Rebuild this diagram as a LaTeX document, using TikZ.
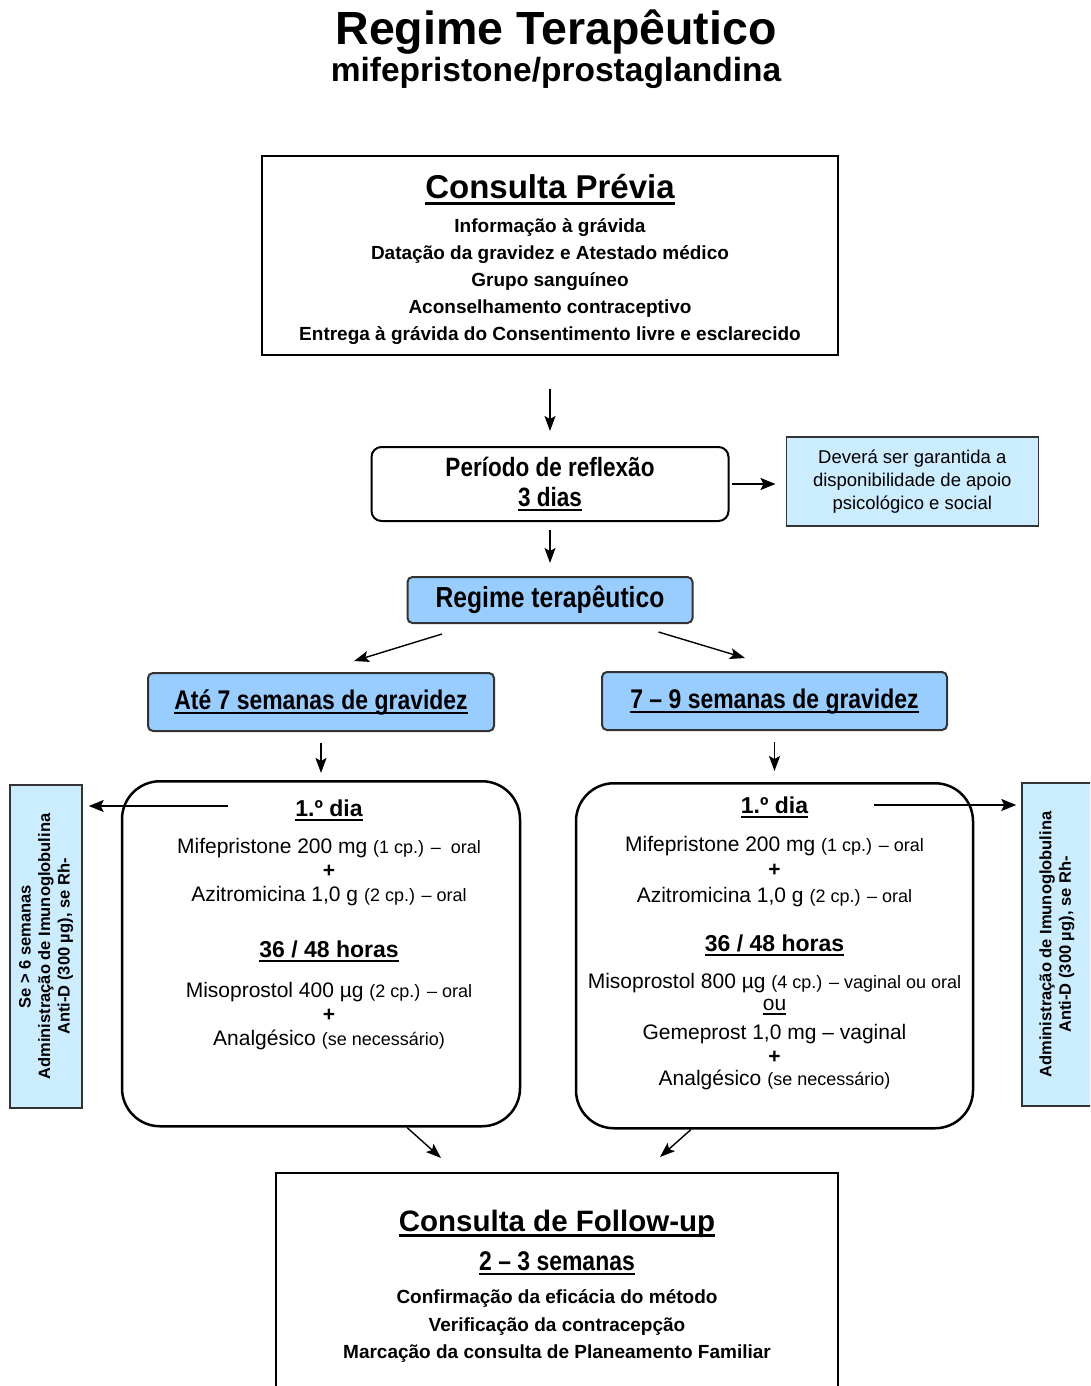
\documentclass[tikz,border=0pt]{standalone}
\usepackage{fontspec}
\setmainfont{Liberation Sans}
\newfontfamily\narrowfont{Liberation Sans}[FakeStretch=0.85]
\usetikzlibrary{positioning, arrows.meta}
\definecolor{paleblue}{RGB}{204,236,255}
\definecolor{phaseblue}{RGB}{153,204,255}
\newcommand{\undl}[1]{\leavevmode\setbox0\hbox{#1}\vtop{\copy0\kern-\dp0\kern0.1em\hrule height 0.075em}}
\newcommand{\smalldose}{\fontsize{18}{24}\selectfont}
\newcommand{\dosehead}[1]{{\bfseries\fontsize{23}{24}\selectfont\undl{#1}}}
\tikzstyle{plainbox} = [rectangle, draw=black, line width=2pt, align=center, inner sep=0pt]
\tikzstyle{roundbox} = [rectangle, rounded corners=10pt, draw=black, line width=2pt, align=center]
\tikzstyle{phase} = [rectangle, rounded corners=5pt, draw=black!80, line width=2pt, fill=phaseblue, align=center]
\tikzstyle{note} = [rectangle, draw=black!80, line width=1.5pt, fill=paleblue, align=center, inner sep=0pt]
\tikzstyle{dosebox} = [rectangle, rounded corners=38pt, draw=black, line width=2.5pt]
\tikzstyle{dosetext} = [align=center, inner sep=0pt, font=\fontsize{21}{24}\selectfont]
\tikzstyle{arrow} = [line width=1.4pt, ->, >={Stealth[length=15pt,width=11pt,inset=3pt]}]
\tikzstyle{sidearrow} = [line width=1.9pt, ->, >={Stealth[length=15pt,width=12pt,inset=3pt]}]

\begin{document}
\begin{tikzpicture}[x=1pt, y=-1pt]
\useasboundingbox (0,0) rectangle (1090,1386);
\clip (0,0) rectangle (1090,1386);
\node (title) [anchor=base, font=\fontsize{46.5}{50}\selectfont\bfseries] at (556,45) {Regime Terapêutico};
\node (subtitle) [anchor=base, font=\fontsize{33.5}{36}\selectfont\bfseries] at (556,82) {mifepristone/prostaglandina};

\node (prev) [plainbox, minimum width=576pt, minimum height=199pt, font=\fontsize{19}{27}\selectfont\bfseries] at (550,255.5)
  {\rule{0pt}{33pt}{\fontsize{33}{36}\selectfont\undl{Consulta Prévia}}\\[7pt]
   Informação à grávida\\
   Datação da gravidez e Atestado médico\\
   Grupo sanguíneo\\
   Aconselhamento contraceptivo\\
   Entrega à grávida do Consentimento livre e esclarecido};
\node (refl) [roundbox, minimum width=357pt, minimum height=74pt, below=90pt of prev, font=\narrowfont\fontsize{26.5}{30}\selectfont\bfseries]
  {Período de reflexão\\ \undl{3 dias}};
\node (apoio) [note, minimum width=252pt, minimum height=89pt, right=56pt of refl, yshift=2.5pt, font=\fontsize{18.5}{23}\selectfont]
  {Deverá ser garantida a\\ disponibilidade de apoio\\ psicológico e social};
\node (regime) [phase, minimum width=285pt, minimum height=46pt, below=54pt of refl, font=\narrowfont\fontsize{29}{32}\selectfont\bfseries]
  {Regime terapêutico};

\node (ate) [phase, minimum width=346pt, minimum height=58pt, font=\narrowfont\fontsize{27}{30}\selectfont\bfseries] at (321,702)
  {\undl{Até 7 semanas de gravidez}};
\node (nove) [phase, minimum width=345pt, minimum height=58pt, font=\narrowfont\fontsize{27}{30}\selectfont\bfseries] at (774.5,701)
  {\undl{7 – 9 semanas de gravidez}};

% doses for each period
\node (leftbox) [dosebox, minimum width=398pt, minimum height=345pt, below=48pt of ate] {};
\node (leftdose) [dosetext, below=20pt of leftbox.north, xshift=8pt]
  {\dosehead{1.º dia}\\[13pt]
   Mifepristone 200 mg {\smalldose (1 cp.) – \ oral}\\
   {\bfseries +}\\
   Azitromicina 1,0 g {\smalldose (2 cp.) – oral}\\[32pt]
   \dosehead{36 / 48 horas}\\[16pt]
   Misoprostol 400 µg {\smalldose (2 cp.) – oral}\\
   {\bfseries +}\\
   Analgésico {\smalldose (se necessário)}};
\node (rightbox) [dosebox, minimum width=397pt, minimum height=345pt, below=51pt of nove] {};
\node (rightdose) [dosetext, below=15pt of rightbox.north]
  {\dosehead{1.º dia}\\[14pt]
   Mifepristone 200 mg {\smalldose (1 cp.) – oral}\\[1pt]
   {\bfseries +}\\[2pt]
   Azitromicina 1,0 g {\smalldose (2 cp.) – oral}\\[25pt]
   \dosehead{36 / 48 horas}\\[13pt]
   Misoprostol 800 µg {\smalldose (4 cp.) – vaginal ou oral}\\[-2pt]
   \undl{ou}\\[5pt]
   Gemeprost 1,0 mg – vaginal\\
   {\bfseries +}\\[-2pt]
   Analgésico {\smalldose (se necessário)}};

\node (rhL) [note, rotate=90, minimum width=323pt, minimum height=72pt, font=\fontsize{16.5}{19.5}\selectfont\bfseries] at (46,946.5)
  {Se > 6 semanas\\ Administração de Imunoglobulina\\ Anti-D (300 µg), se Rh-};
\node (rhR) [note, rotate=90, minimum width=323pt, minimum height=70pt, font=\fontsize{16.5}{19.5}\selectfont\bfseries] at (1057,944.5)
  {Administração de Imunoglobulina\\ Anti-D (300 µg), se Rh-};

\node (follow) [plainbox, minimum width=562pt, minimum height=220pt, font=\fontsize{19}{27.5}\selectfont\bfseries] at (557,1283)
  {\rule{0pt}{28pt}{\fontsize{29.5}{32}\selectfont\undl{Consulta de Follow-up}}\\[11.5pt]
   {\narrowfont\fontsize{27}{30}\selectfont\undl{2 – 3 semanas}}\\[5.5pt]
   Confirmação da eficácia do método\\
   Verificação da contracepção\\
   Marcação da consulta de Planeamento Familiar};

% connectors
\draw [arrow, shorten <=33pt, shorten >=15pt] (prev) -- (refl);
\draw [sidearrow, shorten <=2pt, shorten >=10pt] (refl.east) -- (refl.east -| apoio.west);
\draw [arrow, shorten <=8pt, shorten >=13pt] (refl) -- (regime);
\draw [arrow] ([xshift=-108pt,yshift=-10pt]regime.south) -- ([xshift=33pt,yshift=11pt]ate.north);
\draw [arrow] ([xshift=108.5pt,yshift=-8pt]regime.south) -- ([xshift=-29.5pt,yshift=13pt]nove.north);
\draw [arrow, shorten <=11pt, shorten >=7pt] (ate) -- (leftbox);
\draw [arrow, shorten <=11pt, shorten >=11pt] (nove) -- (rightbox);
\coordinate (outL) at ([xshift=107pt,yshift=-26pt]leftbox.north west);
\coordinate (outR) at ([xshift=-100pt,yshift=-23pt]rightbox.north east);
\draw [sidearrow, shorten >=6pt] (outL) -- (outL -| rhL.south);
\draw [sidearrow, shorten >=5pt] (outR) -- (outR -| rhR.north);
\draw [arrow] ([xshift=86pt]leftbox.south) -- ([xshift=-116pt,yshift=14pt]follow.north);
\draw [arrow] ([xshift=-83.5pt]rightbox.south) -- ([xshift=103pt,yshift=15pt]follow.north);
\end{tikzpicture}
\end{document}
